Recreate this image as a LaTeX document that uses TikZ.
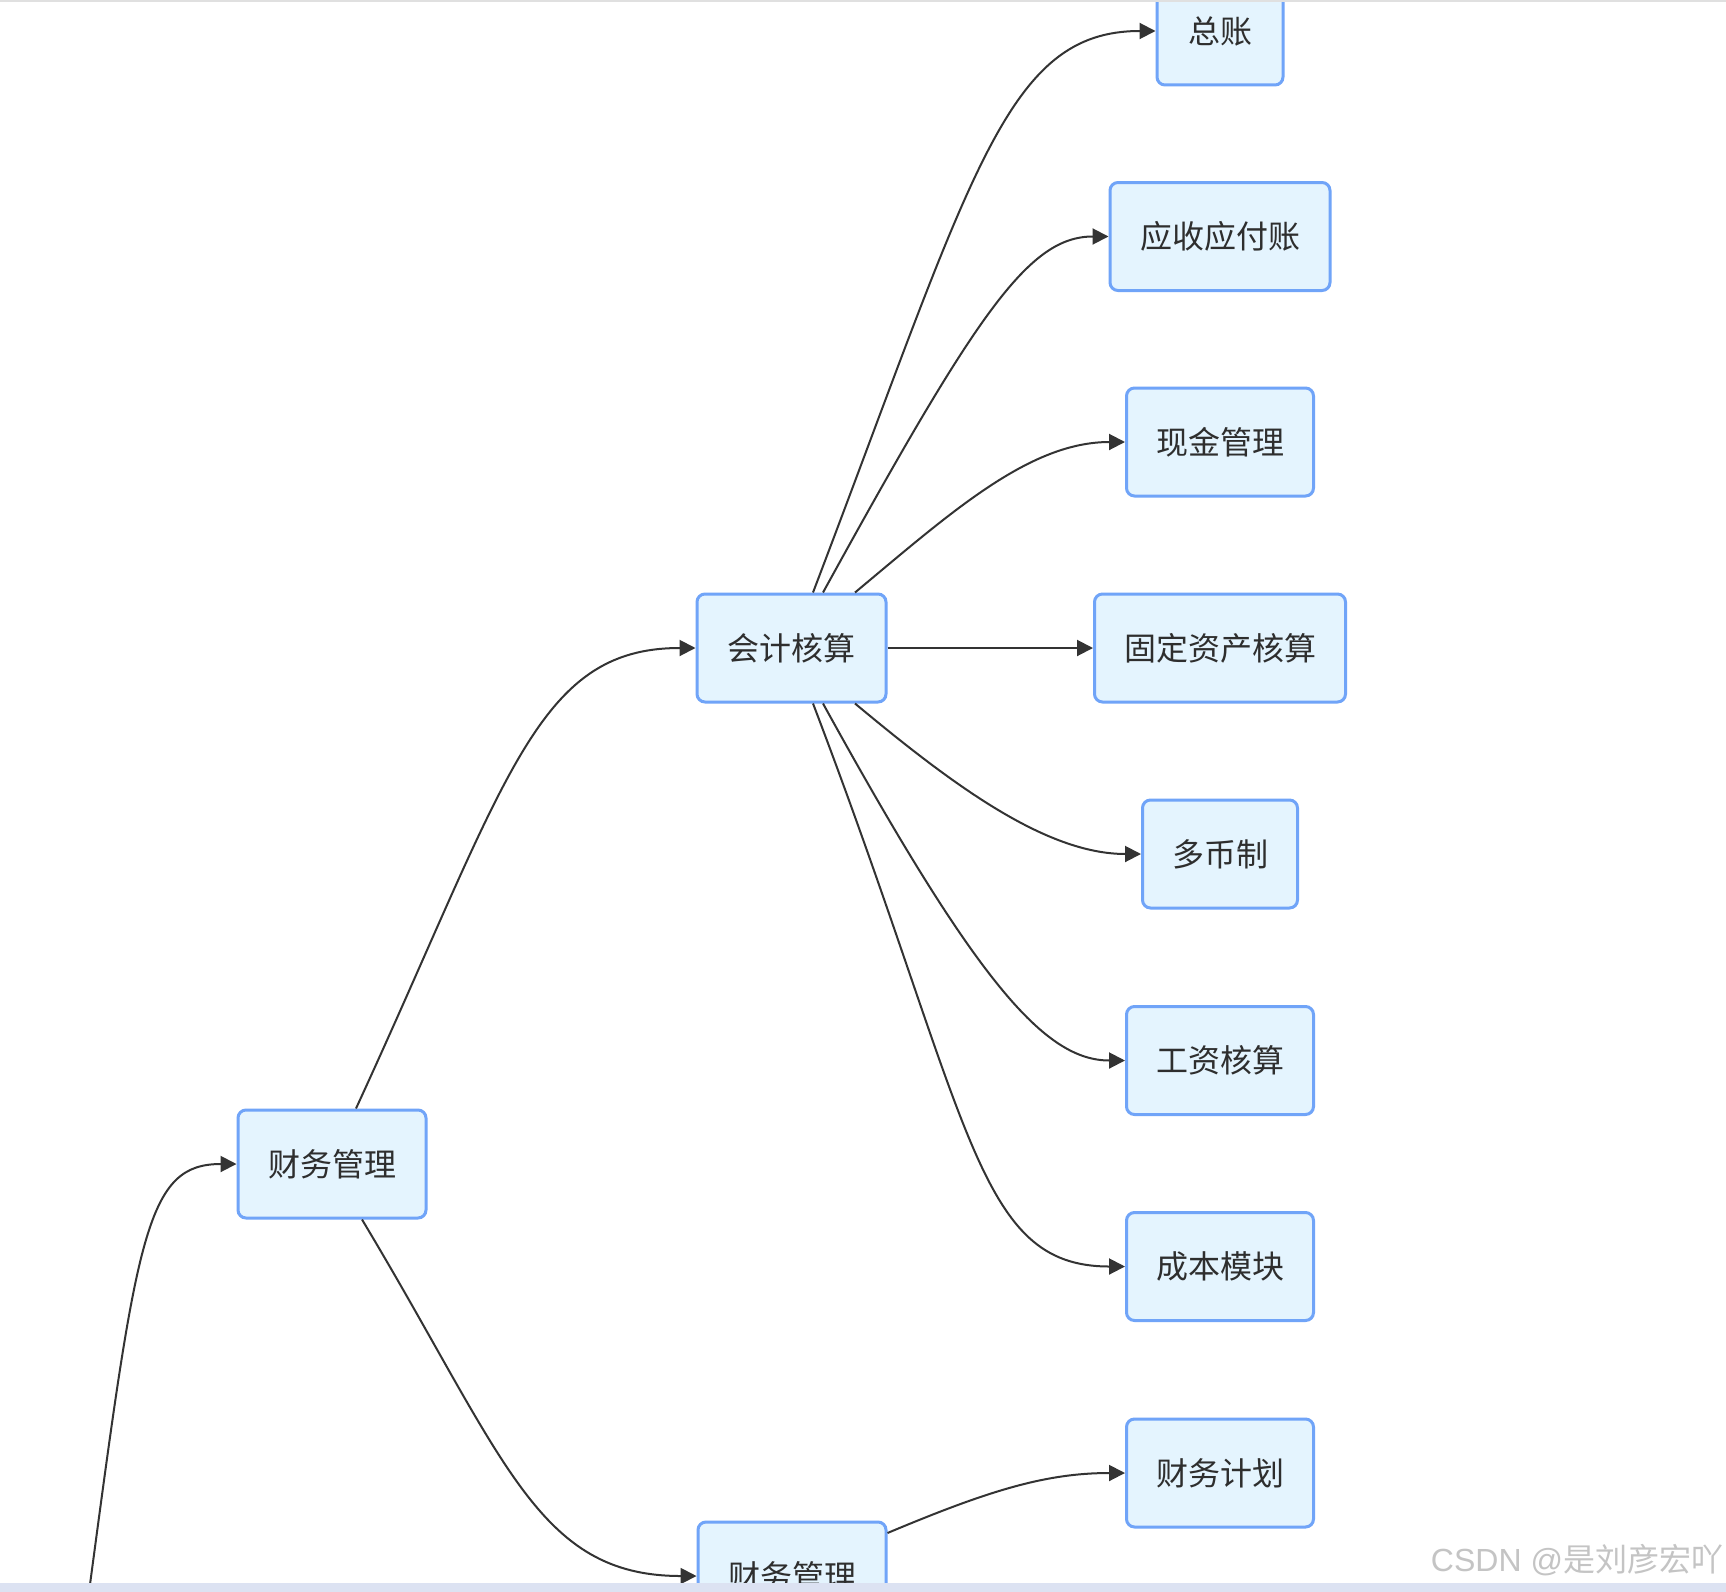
\documentclass[tikz,border=0pt]{standalone}
\usepackage{fontspec}
\setmainfont{Noto Sans CJK SC}
\newfontfamily\latfont{Liberation Sans}
\usetikzlibrary{arrows.meta}
\definecolor{nodefill}{HTML}{E4F4FE}
\definecolor{nodeline}{HTML}{70A4F8}
\definecolor{edgecol}{HTML}{333333}
\definecolor{txtcol}{HTML}{2E2E2E}
\definecolor{wmcol}{HTML}{C4C4C4}
\definecolor{topline}{HTML}{E0E0E0}
\definecolor{bandcol}{HTML}{DCE2F2}
\begin{document}
\begin{tikzpicture}[x=1pt,y=-1pt,
  box/.style={draw=nodeline, fill=nodefill, line width=3pt, rounded corners=8pt,
    minimum height=108pt, inner sep=0pt, text=txtcol,
    font=\fontsize{32pt}{38pt}\selectfont},
  conn/.style={draw=edgecol, line width=2pt, -{Triangle[length=16pt,width=16pt]}},
  wm/.style={text=wmcol, inner sep=0pt, font=\fontsize{32pt}{38pt}\selectfont}
]
\useasboundingbox (0,0) rectangle (1726,1592);
\clip (0,0) rectangle (1726,1592);
\fill[white] (0,0) rectangle (1726,1592);

% nodes
\node[box, minimum width=126pt] (zz)   at (1220,31)    {总账};
\node[box, minimum width=220pt] (ys)   at (1220,236.5) {应收应付账};
\node[box, minimum width=187pt] (xj)   at (1220,442)   {现金管理};
\node[box, minimum width=251pt] (gd)   at (1220,648)   {固定资产核算};
\node[box, minimum width=155pt] (dbz)  at (1220,854)   {多币制};
\node[box, minimum width=187pt] (gz)   at (1220,1060.5){工资核算};
\node[box, minimum width=187pt] (cb)   at (1220,1266.5){成本模块};
\node[box, minimum width=187pt] (cwjh) at (1220,1473)  {财务计划};
\node[box, minimum width=189pt] (kj)   at (791.5,648)  {会计核算};
\node[box, minimum width=188pt] (cwgl) at (332,1164)   {财务管理};
\node[box, minimum width=188pt] (cwgl2) at (792,1576)  {财务管理};
\coordinate (src) at (89,1592);

% connectors
\draw[conn] (src) .. controls +(48,-360) and +(-90,0) .. (cwgl.west);
\draw[conn] ([xshift=24pt]cwgl.north) .. controls +(152,-330) and +(-160,0) .. (kj.west);
\draw[conn] ([xshift=30pt]cwgl.south) .. controls +(144,240) and +(-160,0) .. (cwgl2.west);
\draw[conn] ([yshift=43pt]cwgl2.east) .. controls +(100,-42) and +(-80,0) .. (cwjh.west);

\draw[conn] ([xshift=21.5pt]kj.north) .. controls +(160,-420) and +(-150,0) .. (zz.west);
\draw[conn] ([xshift=31.5pt]kj.north) .. controls +(154,-280) and +(-80,0) .. (ys.west);
\draw[conn] ([xshift=63.5pt]kj.north) .. controls +(96,-80) and +(-96,0) .. (xj.west);
\draw[conn] (kj.east) -- (gd.west);
\draw[conn] ([xshift=63.5pt]kj.south) .. controls +(96,80) and +(-96,0) .. (dbz.west);
\draw[conn] ([xshift=31.5pt]kj.south) .. controls +(154,280) and +(-80,0) .. (gz.west);
\draw[conn] ([xshift=21.5pt]kj.south) .. controls +(160,420) and +(-150,0) .. (cb.west);

% window strips
\fill[topline] (0,0) rectangle (1726,2.5);
\fill[bandcol] (0,1583) rectangle (1726,1592);

% watermark
\node[wm] (wmark) at (1577,1560) {{\latfont CSDN @}是刘彦宏吖};
\end{tikzpicture}
\end{document}
